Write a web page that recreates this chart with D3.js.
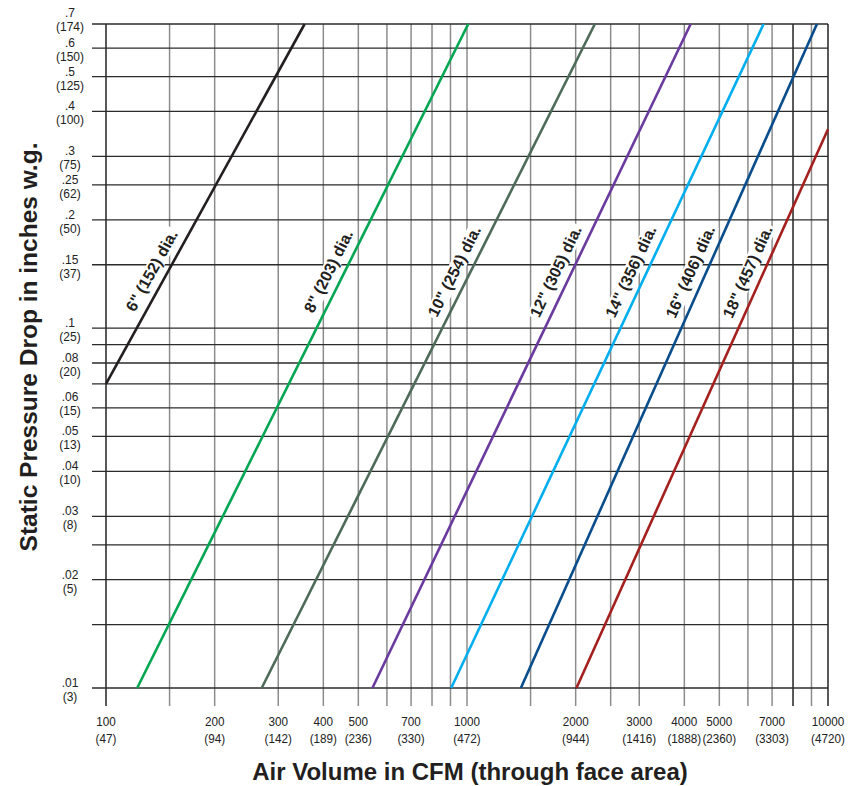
<!DOCTYPE html>
<html><head><meta charset="utf-8">
<script src="https://cdn.jsdelivr.net/npm/d3@7"></script>
<style>
body{margin:0;background:#fff;}
text{font-family:"Liberation Sans",Arial,Helvetica,sans-serif;}
</style>
</head><body><svg id="c" width="848" height="786"></svg>
<script>
// ---- data ----
const xTickValues = [100,200,300,400,500,700,1000,2000,3000,4000,5000,7000,10000];
const xTickMetric = ["(47)","(94)","(142)","(189)","(236)","(330)","(472)","(944)","(1416)","(1888)","(2360)","(3303)","(4720)"];
const xGridValues = [100,150,200,300,400,500,600,700,800,900,1000,1500,2000,2500,3000,4000,5000,6000,7000,8000,9000,10000];
const yGridValues = [0.01,0.015,0.02,0.025,0.03,0.04,0.05,0.06,0.07,0.08,0.09,0.1,0.15,0.2,0.25,0.3,0.4,0.5,0.6,0.7];
const yTickValues = [0.01,0.02,0.03,0.04,0.05,0.06,0.08,0.1,0.15,0.2,0.25,0.3,0.4,0.5,0.6,0.7];
const yTickLabels = [".01",".02",".03",".04",".05",".06",".08",".1",".15",".2",".25",".3",".4",".5",".6",".7"];
const yTickMetric = ["(3)","(5)","(8)","(10)","(13)","(15)","(20)","(25)","(37)","(50)","(62)","(75)","(100)","(125)","(150)","(174)"];
const seriesNames = ['6" (152) dia.','8" (203) dia.','10" (254) dia.','12" (305) dia.','14" (356) dia.','16" (406) dia.','18" (457) dia.'];
const seriesCfm = [[100,355],[122,1008],[270,2260],[547,4165],[904,6630],[1410,9320],[2010,10000]];
const seriesSp  = [[0.07,0.7],[0.01,0.7],[0.01,0.7],[0.01,0.7],[0.01,0.7],[0.01,0.7],[0.01,0.357]];
const xTitle = "Air Volume in CFM (through face area)";
const yTitle = "Static Pressure Drop in inches w.g.";

// ---- styles ----
const seriesColors = ["#231f20","#00a651","#4e6b5a","#6a3a9e","#00aeef","#0a4d8c","#a3201f"];
const darkVerticals = [100,8000,10000];

const svg = d3.select("#c");
const x = d3.scaleLog().domain([100,10000]).range([106,828]);
const y = d3.scaleLog().domain([0.01,0.7]).range([688,24]);

// grid
const g = svg.append("g");
g.selectAll("line.v").data(xGridValues).join("line")
  .attr("x1",d=>x(d)).attr("x2",d=>x(d)).attr("y1",y(0.7)).attr("y2",706)
  .attr("stroke",d=>darkVerticals.includes(d)?"#222":"#8c8c8c").attr("stroke-width",1.5);
g.selectAll("line.h").data(yGridValues).join("line")
  .attr("x1",92).attr("x2",x(10000)).attr("y1",d=>y(d)).attr("y2",d=>y(d))
  .attr("stroke","#2b2b2b").attr("stroke-width",1.3);

// y tick labels
const nudge = v => (v===0.7?-6:(v===0.06?-6:0));
const yl = svg.append("g").attr("font-size",12).attr("fill","#222").attr("text-anchor","middle");
yTickValues.forEach((v,i)=>{
  const yy = y(v)-1+nudge(v);
  yl.append("text").attr("x",70).attr("y",yy).text(yTickLabels[i]);
  yl.append("text").attr("x",70).attr("y",yy+14).text(yTickMetric[i]);
});
// x tick labels (slightly condensed)
function tick(parent, px, py, str){
  parent.append("text").attr("transform",`translate(${px},${py}) scale(0.9,1)`)
    .attr("text-anchor","middle").text(str);
}
const xl = svg.append("g").attr("font-size",13).attr("fill","#222");
xTickValues.forEach((v,i)=>{
  tick(xl,x(v),726,String(v));
  tick(xl,x(v),743,xTickMetric[i]);
});

// series label geometry
const labelSp = 0.138, off = 15;
const labels = seriesNames.map((name,i)=>{
  const x0=x(seriesCfm[i][0]), y0=y(seriesSp[i][0]), x1=x(seriesCfm[i][1]), y1=y(seriesSp[i][1]);
  const yy = y(labelSp);
  const t = (yy-y0)/(y1-y0);
  const xx = x0 + t*(x1-x0);
  const ang = Math.atan2(y1-y0, x1-x0);
  let nx = Math.sin(ang), ny = -Math.cos(ang);
  if (nx > 0) { nx = -nx; ny = -ny; }
  return {name, cx: xx + nx*off, cy: yy + ny*off, deg: ang*180/Math.PI};
});

const lg = svg.append("g");
const lgroups = lg.selectAll("g").data(labels).join("g")
  .attr("transform",d=>`translate(${d.cx},${d.cy}) rotate(${d.deg})`);
const texts = lgroups.append("text").attr("text-anchor","middle").attr("dy","0.36em")
  .attr("font-size",16).attr("font-weight","bold").attr("fill","#231f20").text(d=>d.name);
texts.each(function(){
  const b = this.getBBox();
  d3.select(this.parentNode).insert("rect","text")
    .attr("x",b.x-2).attr("y",b.y+1).attr("width",b.width+4).attr("height",b.height-1).attr("fill","#fff");
});

// series lines
const line = d3.line().x(d=>x(d[0])).y(d=>y(d[1]));
svg.append("g").selectAll("path").data(seriesNames).join("path")
  .attr("d",(d,i)=>line([[seriesCfm[i][0],seriesSp[i][0]],[seriesCfm[i][1],seriesSp[i][1]]]))
  .attr("fill","none").attr("stroke",(d,i)=>seriesColors[i]).attr("stroke-width",2.6);

// titles
svg.append("text").attr("x",470).attr("y",780).attr("text-anchor","middle")
  .attr("font-size",24).attr("font-weight","bold").attr("fill","#231f20").text(xTitle);
svg.append("text").attr("transform","translate(37,347) rotate(-90)").attr("text-anchor","middle")
  .attr("font-size",24.5).attr("font-weight","bold").attr("fill","#231f20").text(yTitle);
</script>
</body></html>
